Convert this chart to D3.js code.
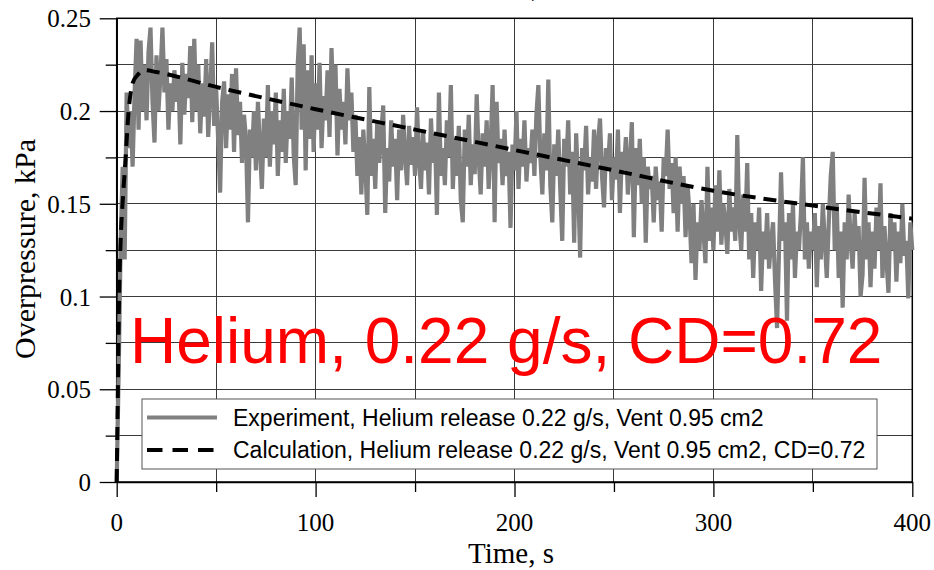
<!DOCTYPE html>
<html>
<head>
<meta charset="utf-8">
<script src="https://cdn.jsdelivr.net/npm/d3@7.9.0/dist/d3.min.js"></script>
<style>
  html, body { margin: 0; padding: 0; background: #fff; }
  svg { display: block; }
</style>
</head>
<body>
<svg id="chart" width="934" height="570"></svg>
<script>
// experiment: one sample per second, t = 0 .. 400 s
const expStep = 1;
const expValues = [
  0, 0.06, 0.13, 0.17, 0.12, 0.21, 0.18, 0.2, 0.17, 0.21,
  0.239, 0.19, 0.238, 0.2, 0.225, 0.195, 0.232, 0.245, 0.205, 0.183,
  0.23, 0.2, 0.219, 0.245, 0.21, 0.228, 0.19, 0.215, 0.2, 0.222,
  0.205, 0.218, 0.182, 0.226, 0.198, 0.22, 0.207, 0.235, 0.194, 0.239,
  0.2, 0.225, 0.188, 0.215, 0.197, 0.228, 0.186, 0.21, 0.237, 0.192,
  0.212, 0.185, 0.156, 0.205, 0.216, 0.18, 0.209, 0.19, 0.22, 0.178,
  0.223, 0.187, 0.205, 0.172, 0.198, 0.185, 0.14, 0.19, 0.175, 0.2,
  0.168, 0.205, 0.18, 0.158, 0.196, 0.175, 0.214, 0.17, 0.2, 0.182,
  0.21, 0.165, 0.195, 0.178, 0.212, 0.172, 0.2, 0.185, 0.218, 0.176,
  0.16, 0.225, 0.245, 0.19, 0.236, 0.168, 0.222, 0.185, 0.23, 0.178,
  0.215, 0.19, 0.226, 0.18, 0.208, 0.195, 0.222, 0.186, 0.234, 0.2,
  0.225, 0.176, 0.212, 0.19, 0.205, 0.182, 0.223, 0.195, 0.21, 0.178,
  0.198, 0.165, 0.186, 0.155, 0.19, 0.17, 0.144, 0.213, 0.165, 0.185,
  0.158, 0.195, 0.172, 0.188, 0.203, 0.145, 0.18, 0.162, 0.195, 0.17,
  0.185, 0.152, 0.19, 0.168, 0.198, 0.176, 0.16, 0.192, 0.171, 0.186,
  0.165, 0.202, 0.174, 0.158, 0.19, 0.168, 0.183, 0.155, 0.196, 0.172,
  0.188, 0.144, 0.21, 0.165, 0.18, 0.16, 0.195, 0.175, 0.214, 0.158,
  0.185, 0.165, 0.192, 0.152, 0.14, 0.19, 0.17, 0.198, 0.16, 0.182,
  0.166, 0.209, 0.175, 0.155, 0.188, 0.17, 0.195, 0.158, 0.18, 0.214,
  0.14, 0.205, 0.172, 0.185, 0.16, 0.19, 0.165, 0.178, 0.137, 0.182,
  0.168, 0.2, 0.158, 0.185, 0.17, 0.195, 0.162, 0.18, 0.172, 0.19,
  0.165, 0.198, 0.214, 0.175, 0.155, 0.188, 0.168, 0.217, 0.16, 0.14,
  0.182, 0.165, 0.19, 0.158, 0.13, 0.185, 0.17, 0.195, 0.155, 0.178,
  0.129, 0.188, 0.16, 0.121, 0.18, 0.168, 0.192, 0.155, 0.175, 0.162,
  0.19, 0.158, 0.183, 0.196, 0.165, 0.148, 0.18, 0.17, 0.188, 0.152,
  0.175, 0.163, 0.19, 0.145, 0.178, 0.168, 0.186, 0.155, 0.172, 0.194,
  0.132, 0.18, 0.16, 0.185, 0.15, 0.175, 0.129, 0.17, 0.158, 0.165,
  0.14, 0.17, 0.152, 0.162, 0.135, 0.175, 0.165, 0.19, 0.158, 0.172,
  0.145, 0.175, 0.135, 0.17, 0.15, 0.165, 0.132, 0.16, 0.145, 0.118,
  0.15, 0.109, 0.14, 0.125, 0.152, 0.135, 0.118, 0.17, 0.13, 0.148,
  0.125, 0.16, 0.135, 0.168, 0.128, 0.15, 0.14, 0.123, 0.158, 0.135,
  0.148, 0.13, 0.187, 0.14, 0.125, 0.155, 0.135, 0.172, 0.12, 0.145,
  0.11, 0.14, 0.125, 0.148, 0.103, 0.135, 0.12, 0.145, 0.115, 0.13,
  0.14, 0.108, 0.083, 0.125, 0.167, 0.13, 0.14, 0.087, 0.145, 0.12,
  0.15, 0.11, 0.135, 0.125, 0.145, 0.175, 0.12, 0.14, 0.115, 0.135,
  0.125, 0.145, 0.105, 0.138, 0.12, 0.15, 0.13, 0.11, 0.14, 0.165,
  0.178, 0.125, 0.15, 0.11, 0.135, 0.094, 0.14, 0.12, 0.155, 0.13,
  0.115, 0.145, 0.125, 0.138, 0.1, 0.112, 0.164, 0.12, 0.14, 0.105,
  0.135, 0.115, 0.148, 0.125, 0.161, 0.11, 0.138, 0.12, 0.102, 0.145,
  0.125, 0.14, 0.108, 0.135, 0.118, 0.15, 0.122, 0.13, 0.099, 0.14,
  0.125
];

// calculation (model) curve
const calcTime  = [0, 0.6, 1.2, 2, 3.3, 4.2, 6, 8, 11, 14, 20, 50, 100, 150, 200, 250, 300, 350, 400];
const calcValue = [0, 0.05, 0.1, 0.13, 0.156, 0.17, 0.2, 0.215, 0.22, 0.222, 0.221, 0.213, 0.201, 0.19, 0.179, 0.168, 0.157, 0.149, 0.142];

const xTicks = [0, 100, 200, 300, 400];
const yTicks = [0, 0.05, 0.1, 0.15, 0.2, 0.25];
const legendLabels = [
  'Experiment, Helium release 0.22 g/s, Vent 0.95 cm2',
  'Calculation, Helium release 0.22 g/s, Vent 0.95 cm2, CD=0.72'
];
const noteText = 'Helium, 0.22 g/s, CD=0.72';

const svg = d3.select('#chart');
const plotL = 116.7, plotR = 912.3, plotT = 18.3, plotB = 482;

const x = d3.scaleLinear().domain([0, 400]).range([plotL, plotR]);
const y = d3.scaleLinear().domain([0, 0.25]).range([plotB, plotT]);

const serif = '"Liberation Serif", "Times New Roman", serif';
const sans = '"Liberation Sans", Arial, sans-serif';

// grid
const grid = svg.append('g').attr('shape-rendering', 'crispEdges');
grid.selectAll('.gx')
  .data(d3.range(50, 400, 50))
  .enter().append('line')
  .attr('x1', (d) => x(d)).attr('x2', (d) => x(d))
  .attr('y1', plotT).attr('y2', plotB)
  .attr('stroke', '#3a3a3a').attr('stroke-width', 1);
grid.selectAll('.gy')
  .data(d3.range(0.025, 0.25, 0.025))
  .enter().append('line')
  .attr('x1', plotL).attr('x2', plotR)
  .attr('y1', (d) => y(d)).attr('y2', (d) => y(d))
  .attr('stroke', '#3a3a3a').attr('stroke-width', 1);

// axes with major / minor ticks
const xAxis = svg.append('g')
  .attr('transform', `translate(0,${plotB})`)
  .call(d3.axisBottom(x).tickValues(d3.range(0, 401, 50)).tickFormat('')
    .tickSize(10).tickSizeOuter(0));
xAxis.selectAll('.tick line')
  .attr('y2', (d) => (d % 100 === 0 ? 15 : 10));
const yAxis = svg.append('g')
  .attr('transform', `translate(${plotL},0)`)
  .call(d3.axisLeft(y).tickValues(d3.range(0, 0.2501, 0.025)).tickFormat('')
    .tickSize(11).tickSizeOuter(0));
yAxis.selectAll('.tick line')
  .attr('x2', (d, i) => (i % 2 === 0 ? -17 : -11));
svg.selectAll('.domain').attr('stroke', '#000').attr('stroke-width', 1.5);
svg.selectAll('.tick line').attr('stroke', '#000').attr('stroke-width', 1.3);

// frame
svg.append('rect')
  .attr('x', plotL).attr('y', plotT)
  .attr('width', plotR - plotL).attr('height', plotB - plotT)
  .attr('fill', 'none').attr('stroke', '#000').attr('stroke-width', 1.5);

// tick labels
svg.selectAll('.xl')
  .data(xTicks)
  .enter().append('text')
  .attr('x', (d) => x(d)).attr('y', 531)
  .attr('text-anchor', 'middle')
  .attr('font-family', serif).attr('font-size', 25)
  .text((d) => d);
svg.selectAll('.yl')
  .data(yTicks)
  .enter().append('text')
  .attr('x', 91).attr('y', (d) => y(d) + 9)
  .attr('text-anchor', 'end')
  .attr('font-family', serif).attr('font-size', 25)
  .text((d) => String(d));

// axis titles
svg.append('text')
  .attr('x', 511).attr('y', 563)
  .attr('text-anchor', 'middle')
  .attr('font-family', serif).attr('font-size', 29)
  .text('Time, s');
svg.append('text')
  .attr('transform', 'translate(35,249) rotate(-90)')
  .attr('text-anchor', 'middle')
  .attr('font-family', serif).attr('font-size', 30)
  .text('Overpressure, kPa');

// clipped title remnant at the very top
svg.append('text')
  .attr('x', 531).attr('y', -3)
  .attr('font-family', serif).attr('font-size', 28)
  .text(',');

// series
const expLine = d3.line()
  .x((d, i) => x(i * expStep))
  .y((d) => y(d));
svg.append('path')
  .datum(expValues)
  .attr('d', expLine)
  .attr('fill', 'none')
  .attr('stroke', '#808080')
  .attr('stroke-width', 4.2)
  .attr('stroke-linejoin', 'miter');

const calcLine = d3.line()
  .x((d, i) => x(calcTime[i]))
  .y((d) => y(d))
  .curve(d3.curveMonotoneX);
svg.append('path')
  .datum(calcValue)
  .attr('d', calcLine)
  .attr('fill', 'none')
  .attr('stroke', '#000')
  .attr('stroke-width', 4)
  .attr('stroke-dasharray', '13,8');

// legend
const legend = svg.append('g');
legend.append('rect')
  .attr('x', 142).attr('y', 399)
  .attr('width', 735).attr('height', 70)
  .attr('fill', '#fff').attr('stroke', '#555').attr('stroke-width', 1);
const legendStyles = [
  { color: '#808080', dash: null },
  { color: '#000', dash: '15.5,10' }
];
legendLabels.forEach((label, i) => {
  const ly = 417.5 + i * 32.5;
  legend.append('line')
    .attr('x1', 147).attr('x2', 217)
    .attr('y1', ly).attr('y2', ly)
    .attr('stroke', legendStyles[i].color)
    .attr('stroke-width', 4)
    .attr('stroke-dasharray', legendStyles[i].dash);
  legend.append('text')
    .attr('x', 233).attr('y', ly + 8)
    .attr('font-family', sans).attr('font-size', 23)
    .text(label);
});

// big red annotation
svg.append('text')
  .attr('x', 130).attr('y', 363)
  .attr('font-family', sans).attr('font-size', 64)
  .attr('fill', '#ff0000')
  .text(noteText);
</script>
</body>
</html>
